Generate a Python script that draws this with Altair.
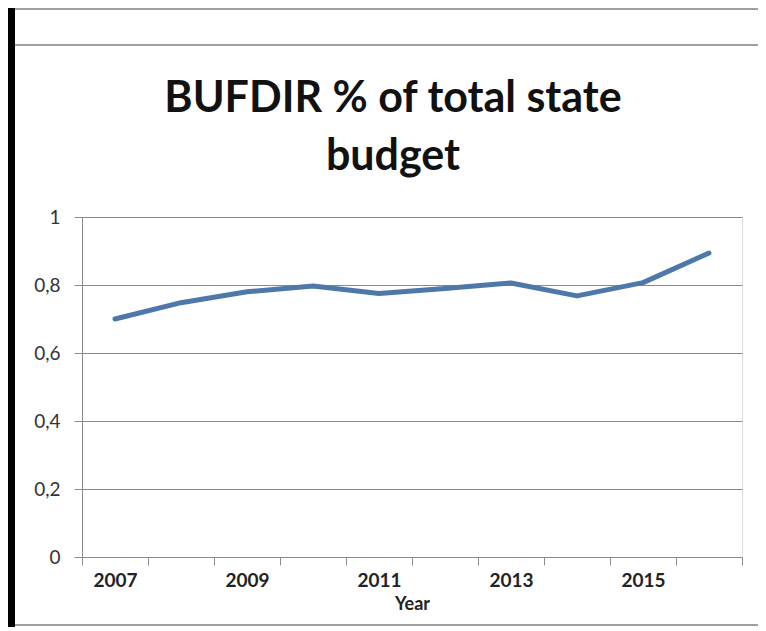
import altair as alt
import pandas as pd

years = [str(y) for y in range(2007, 2017)]
values = [0.70, 0.748, 0.780, 0.797, 0.775, 0.790, 0.806, 0.768, 0.807, 0.894]
y_ticks = [0, 0.2, 0.4, 0.6, 0.8, 1.0]
x_labels_shown = ["2007", "2009", "2011", "2013", "2015"]
title_lines = ["BUFDIR % of total state", "budget"]

df = pd.DataFrame({"Year": years, "Value": values})

FONT = "Lato"
GRID = "#8a8a8a"

line = alt.Chart(df).mark_line(color="#4f78aa", strokeWidth=5, strokeCap="round", strokeJoin="round").encode(
    x=alt.X("Year:O",
            scale=alt.Scale(type="band", paddingInner=0, paddingOuter=0),
            axis=alt.Axis(title="Year", labelAngle=0, tickBand="extent",
                          labelExpr="indexof(" + str(x_labels_shown) + ", datum.label) >= 0 ? datum.label : ''",
                          labelFont=FONT, labelFontSize=19, labelFontWeight="bold", labelColor="#222222",
                          labelPadding=6,
                          titleFont=FONT, titleFontSize=18, titleFontWeight="bold", titleColor="#222222",
                          titlePadding=5,
                          domainColor=GRID, tickColor=GRID, tickSize=8, grid=False)),
    y=alt.Y("Value:Q",
            scale=alt.Scale(domain=[0, 1], nice=False, zero=True),
            axis=alt.Axis(title=None, values=y_ticks,
                          labelExpr="replace(format(datum.value, '~g'), '.', ',')",
                          labelFont=FONT, labelFontSize=19, labelColor="#333333",
                          labelPadding=14,
                          domainColor=GRID, tickColor=GRID, tickSize=8,
                          grid=True, gridColor=GRID, gridWidth=1)),
)

one = alt.Data(values=[{}])

def hrule(y, x1, x2, color="#a0a0a0", w=2):
    return alt.Chart(one).mark_rule(color=color, strokeWidth=w).encode(
        x=alt.value(x1), x2=alt.value(x2), y=alt.value(y))

title = alt.Chart(one).mark_text(
    font=FONT, fontSize=43, fontWeight="bold", color="#111111",
    align="center", baseline="alphabetic", lineHeight=58,
).encode(x=alt.value(311), y=alt.value(-105), text=alt.value(title_lines))

deco = [
    hrule(-208, -67, 690),
    hrule(-172, -67, 690),
    hrule(408, -67, 690),
    alt.Chart(one).mark_rule(color="#000000", strokeWidth=10).encode(
        x=alt.value(-72), y=alt.value(-220), y2=alt.value(420)),
    title,
]

chart = alt.layer(line, *deco).properties(
    width=660, height=340,
    padding={"left": 74, "top": 209, "right": 16, "bottom": 70},
    autosize=alt.AutoSizeParams(type="none"),
).configure_view(stroke=None).configure(background="white")

chart.save("out.html", embed_options={"renderer": "svg", "actions": False})
